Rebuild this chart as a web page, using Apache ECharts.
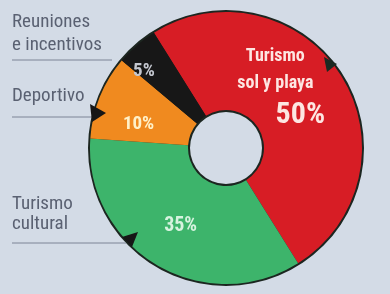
<!DOCTYPE html>
<html lang="es">
<head>
    <meta charset="UTF-8">
    <title>Tipos de turismo</title>
    <script src="https://cdn.jsdelivr.net/npm/echarts@6/dist/echarts.min.js"></script>
    <style>
        html, body { margin: 0; padding: 0; background: #d3dbe6; }
    </style>
</head>
<body>
<div id="main" style="width: 390px;height:294px;"></div>
<script type="text/javascript">
    // datos del grafico
    var categorias = ['Turismo sol y playa', 'Turismo cultural', 'Deportivo', 'Reuniones e incentivos'];
    var valores = [50, 35, 10, 5];
    var colores = ['#d71d25', '#3db46b', '#f08a1f', '#171717'];
    var etiquetas = ['50%', '35%', '10%', '5%'];

    var fuente = "'Liberation Sans Narrow', 'Roboto Condensed', 'Liberation Sans', sans-serif";
    var gris = '#5a6172';

    var myChart = echarts.init(document.getElementById('main'));

    // ajustes de cada etiqueta interior
    var estilos = [
        {color: '#fde6e2', fontSize: 22, offset: [-27, -12]},
        {color: '#d6f3df', fontSize: 20, offset: [1, 1]},
        {color: '#fff1c8', fontSize: 19, offset: [-4, 10]},
        {color: '#c4c7cf', fontSize: 19, offset: [-23, -9]}
    ];

    var datos = categorias.map(function (c, i) {
        var lab = {
            color: estilos[i].color,
            fontSize: estilos[i].fontSize,
            offset: estilos[i].offset
        };
        if (i === 0) {
            lab.formatter = '{t|Turismo}\n{t|sol y playa}\n{p|' + etiquetas[i] + '}';
            lab.rich = {
                t: {color: '#fde6e2', fontSize: 18, fontFamily: fuente, fontWeight: 'bold', lineHeight: 27},
                p: {color: '#fde6e2', fontSize: 30, fontFamily: fuente, lineHeight: 36, padding: [0, 0, 0, 50]}
            };
        } else {
            lab.formatter = etiquetas[i];
        }
        return {name: c, value: valores[i], itemStyle: {color: colores[i]}, label: lab};
    });

    myChart.setOption({
        backgroundColor: '#d3dbe6',
        animation: false,
        series: [
            {
                // contorno oscuro
                type: 'pie',
                silent: true,
                center: [226, 148],
                radius: [36, 138],
                label: {show: false},
                labelLine: {show: false},
                data: [{value: 1, itemStyle: {color: '#1c2620'}}]
            },
            {
                type: 'pie',
                silent: true,
                center: [226, 148],
                radius: [38, 136],
                startAngle: 122,
                clockwise: true,
                label: {
                    show: true,
                    position: 'inside',
                    fontFamily: fuente,
                    fontWeight: 'bold'
                },
                labelLine: {show: false},
                data: datos
            }
        ],
        graphic: [
            {type: 'text', z: 100, left: 12, top: 11, style: {text: 'Reuniones\ne incentivos', fill: gris, font: '19px ' + fuente, lineHeight: 23}},
            {type: 'line', z: 100, shape: {x1: 12, y1: 60, x2: 112, y2: 60}, style: {stroke: '#7d8496', lineWidth: 1}},
            {type: 'text', z: 100, left: 12, top: 87, style: {text: 'Deportivo', fill: gris, font: '19px ' + fuente}},
            {type: 'line', z: 100, shape: {x1: 12, y1: 117, x2: 94, y2: 117}, style: {stroke: '#7d8496', lineWidth: 1}},
            {type: 'polygon', z: 100, shape: {points: [[90, 104], [106, 113], [92, 122]]}, style: {fill: '#161616'}},
            {type: 'text', z: 100, left: 12, top: 194, style: {text: 'Turismo\ncultural', fill: gris, font: '19px ' + fuente, lineHeight: 20}},
            {type: 'line', z: 100, shape: {x1: 12, y1: 243, x2: 126, y2: 243}, style: {stroke: '#7d8496', lineWidth: 1}},
            {type: 'polygon', z: 100, shape: {points: [[122, 237], [138, 232], [132, 247]]}, style: {fill: '#161616'}},
            {type: 'polygon', z: 100, shape: {points: [[324, 57], [337, 64], [327, 72]]}, style: {fill: '#1b2a22'}}
        ]
    });
</script>
</body>
</html>
